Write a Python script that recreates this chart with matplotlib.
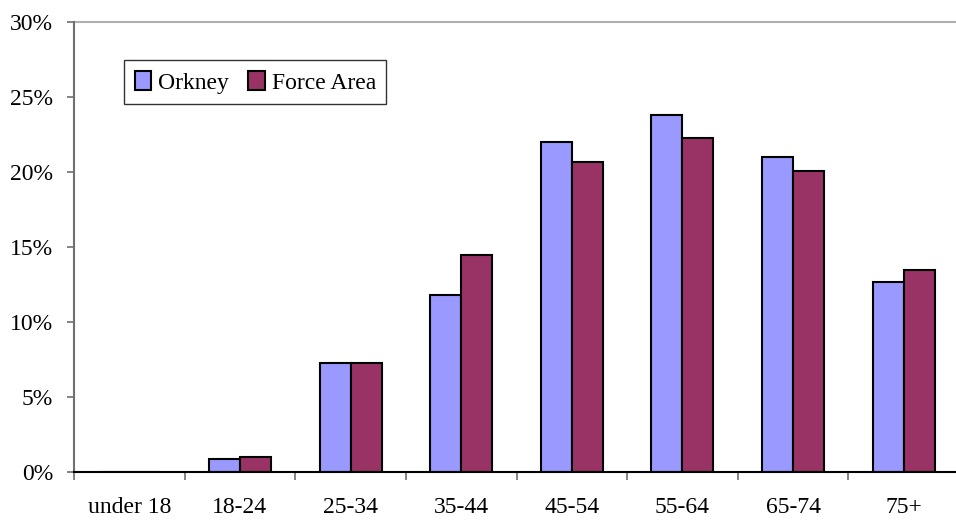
import numpy as np
import matplotlib.pyplot as plt
from matplotlib.ticker import FuncFormatter

plt.rcParams['font.family'] = ['Liberation Serif', 'DejaVu Serif']
plt.rcParams['font.size'] = 17

categories = ['under 18', '18-24', '25-34', '35-44', '45-54', '55-64', '65-74', '75+']
orkney = [0.0, 0.9, 7.3, 11.8, 22.0, 23.8, 21.0, 12.7]
force_area = [0.0, 1.0, 7.3, 14.5, 20.7, 22.3, 20.1, 13.5]

fig = plt.figure(figsize=(9.56, 5.23), dpi=100)
ax = fig.add_axes([74/956, 1-472/523, 885/956, 450/523])

x = np.arange(len(categories))
w = 0.28
ax.bar(x - w/2, orkney, w, color='#9999FF', edgecolor='black', linewidth=1.5, label='Orkney')
ax.bar(x + w/2, force_area, w, color='#993366', edgecolor='black', linewidth=1.5, label='Force Area')

ax.set_xlim(-0.5, len(categories) - 0.5)
ax.set_ylim(0, 30)
ax.set_yticks(np.arange(0, 31, 5))
ax.yaxis.set_major_formatter(FuncFormatter(lambda v, p: f'{v:.0f}%'))
ax.set_xticks(x)
ax.set_xticklabels(categories)
ax.tick_params(axis='x', length=0, pad=18)
ax.set_xticks(np.arange(0, len(categories)) - 0.5, minor=True)
ax.tick_params(axis='x', which='minor', length=5.5, width=1.2, color='#707070', direction='out')
ax.tick_params(axis='y', length=5, width=1.2, color='#707070', direction='out', pad=10)

ax.axhline(30, color='#b0b0b0', lw=1.5, clip_on=False)
ax.spines['top'].set_visible(False)
ax.spines['right'].set_visible(False)
ax.spines['left'].set_color('#707070')
ax.spines['left'].set_linewidth(1.5)
ax.spines['bottom'].set_color('black')
ax.spines['bottom'].set_linewidth(1.5)

leg = ax.legend(loc='upper left', bbox_to_anchor=(50/885, 1 - 38/450), ncol=2,
                frameon=True, fancybox=False, edgecolor='black',
                handlelength=0.7, handleheight=0.9, handletextpad=0.3,
                columnspacing=0.8, borderpad=0.45, borderaxespad=0)
leg.get_frame().set_linewidth(1.0)

fig.savefig('out.png', dpi=100)
